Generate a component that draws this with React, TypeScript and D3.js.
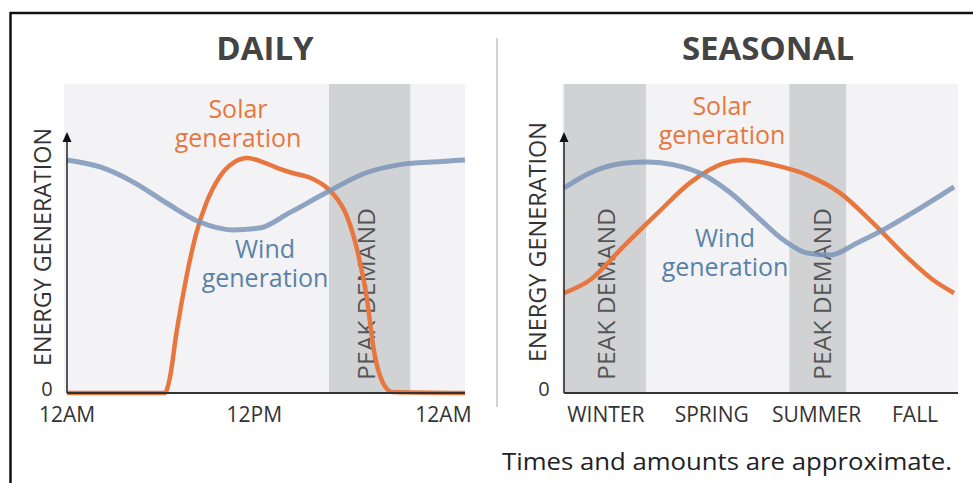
import React from "react";
import * as d3 from "d3";

// ---------- DATA ----------
const dailyHours = [0, 5.9, 6.2, 6.6, 7.2, 7.8, 8.4, 9.2, 10.0, 10.9, 11.8, 12.7, 13.6, 14.7, 15.6, 16.0, 16.9, 17.5, 18.1, 18.5, 19.0, 19.6, 24];
const dailySolar = [0, 0, 5.7, 23, 44.4, 61.3, 72.8, 82.8, 88.1, 90, 88.5, 86.2, 84.3, 82.4, 79, 76.6, 67.4, 54.8, 35.6, 16.5, 4.6, 0.4, 0];
const dailyWindHours = [0, 2, 4, 6, 8, 10, 11.6, 13.4, 15.7, 18.0, 20.0, 22.0, 24];
const dailyWind = [89.3, 86.6, 80.8, 72.8, 65.5, 62.5, 63.2, 69, 77, 84.3, 87.4, 88.5, 89.3];
const dailyPeak = [15.8, 20.7];
const dailyTicks = ["12AM", "12PM", "12AM"];
const dailyTickHours = [0, 11.3, 22.7];

const seasonT = [0, 0.066, 0.15, 0.213, 0.279, 0.355, 0.423, 0.491, 0.557, 0.618, 0.676, 0.744, 0.81, 0.896, 0.99];
const seasonWind = [78.5, 84.3, 88, 88.5, 87.4, 83.5, 76.6, 67.4, 58.6, 53.6, 52.9, 57.5, 62.5, 70.1, 79];
const seasonSolarT = [0, 0.066, 0.15, 0.238, 0.322, 0.405, 0.456, 0.532, 0.618, 0.701, 0.785, 0.871, 0.937, 0.99];
const seasonSolar = [38.3, 43.3, 56, 69, 80.8, 88, 89.3, 87.4, 83.5, 76.6, 65, 52, 43.3, 38.3];
const seasonPeaks = [[0, 0.208], [0.572, 0.716]];
const seasonTicks = ["WINTER", "SPRING", "SUMMER", "FALL"];
const seasonTickT = [0.106, 0.375, 0.641, 0.891];

// ---------- STYLE ----------
const FONT = "'Open Sans', 'Noto Sans', sans-serif";
const BG = "#f3f3f5";
const BAND = "#d1d2d4";
const ORANGE = "#e8773f";
const BLUE = "#7d95b8";
const BLUE_TEXT = "#5a82a8";
const TXT = "#333";

type PanelProps = {
  x1: number; plotLeft: number; axisX: number;
  title: string; titleX: number;
  domain: [number, number];
  solarX: number[]; solarY: number[];
  windX: number[]; windY: number[];
  peaks: number[][]; peakLabelX: number[];
  ticks: string[]; tickPos: number[];
  solarLabel: [number, number]; windLabel: [number, number];
  yLabelX: number; yLabelY: number; yLabelLen: number;
};

const yTop = 84, yBase = 393, yArrow = 132;
const y = d3.scaleLinear().domain([0, 100]).range([yBase, yArrow]);

function TwoLine({ x, y0, first, color }: { x: number; y0: number; first: string; color: string }) {
  return (
    <g>
      <text x={x} y={y0} textAnchor="middle" fontFamily={FONT} fontSize={25} fill={color}>{first}</text>
      <text x={x} y={y0 + 29} textAnchor="middle" fontFamily={FONT} fontSize={25} fill={color}>generation</text>
    </g>
  );
}

function Panel(p: PanelProps) {
  const x = d3.scaleLinear().domain(p.domain).range([p.axisX, p.x1]);
  const line = d3.line<[number, number]>().x(d => x(d[0])).y(d => y(d[1])).curve(d3.curveMonotoneX);
  const solar = line(p.solarX.map((v, i) => [v, p.solarY[i]]));
  const wind = line(p.windX.map((v, i) => [v, p.windY[i]]));
  return (
    <g>
      <text x={p.titleX} y={60} textAnchor="middle" fontFamily={FONT} fontWeight={700} fontSize={33} fill="#444">{p.title}</text>
      <rect x={p.plotLeft} y={yTop} width={p.x1 - p.plotLeft} height={yBase - yTop} fill={BG} />
      {p.peaks.map((pk, i) => {
        const a = Math.max(x(pk[0]), p.plotLeft);
        return <rect key={i} x={a} y={yTop} width={x(pk[1]) - a} height={yBase - yTop} fill={BAND} />;
      })}
      {p.peaks.map((pk, i) => (
        <text key={"pl" + i} transform={`translate(${p.peakLabelX[i]},380) rotate(-90)`} x={0} y={0} dy="0.35em"
          fontFamily={FONT} fontSize={23} fill="#555" textLength={172} lengthAdjust="spacingAndGlyphs">PEAK DEMAND</text>
      ))}
      <path d={solar ?? ""} fill="none" stroke={ORANGE} strokeWidth={4.5} />
      <path d={wind ?? ""} fill="none" stroke={BLUE} strokeWidth={5} strokeOpacity={0.85} />
      <line x1={p.axisX} x2={p.axisX} y1={yArrow + 6} y2={yBase} stroke="#222" strokeWidth={1.5} />
      <line x1={p.axisX} x2={p.x1} y1={yBase} y2={yBase} stroke="#333" strokeWidth={2} />
      <path d={`M${p.axisX},${yArrow} L${p.axisX - 4.5},${yArrow + 10} L${p.axisX + 4.5},${yArrow + 10} Z`} fill="#111" />
      <text x={p.axisX - 20} y={396} textAnchor="middle" fontFamily={FONT} fontSize={20} fill={TXT}>0</text>
      <text transform={`translate(${p.yLabelX},${p.yLabelY}) rotate(-90)`} textAnchor="middle" dy="0.35em"
        fontFamily={FONT} fontSize={23} fill={TXT} textLength={p.yLabelLen} lengthAdjust="spacingAndGlyphs">ENERGY GENERATION</text>
      {p.ticks.map((t, i) => (
        <text key={t + i} x={x(p.tickPos[i])} y={422} textAnchor="middle" fontFamily={FONT} fontSize={21} fill={TXT}>{t}</text>
      ))}
      <TwoLine x={p.solarLabel[0]} y0={p.solarLabel[1]} first="Solar" color={ORANGE} />
      <TwoLine x={p.windLabel[0]} y0={p.windLabel[1]} first="Wind" color={BLUE_TEXT} />
    </g>
  );
}

export default function App() {
  return (
    <svg width={973} height={483} style={{ position: "absolute", left: 0, top: 0, background: "#fff" }}>
      <line x1={10} x2={973} y1={13} y2={13} stroke="#111" strokeWidth={2.5} />
      <line x1={10.5} x2={10.5} y1={12} y2={483} stroke="#111" strokeWidth={2.5} />
      <line x1={497} x2={497} y1={38} y2={407} stroke="#c4c4c4" strokeWidth={1.5} />
      <Panel x1={465} plotLeft={64} axisX={67} title="DAILY" titleX={265}
        domain={[0, 24]} solarX={dailyHours} solarY={dailySolar} windX={dailyWindHours} windY={dailyWind}
        peaks={[dailyPeak]} peakLabelX={[367]} ticks={dailyTicks} tickPos={dailyTickHours}
        solarLabel={[238, 118]} windLabel={[265, 258]} yLabelX={43} yLabelY={247} yLabelLen={238} />
      <Panel x1={958} plotLeft={562} axisX={564} title="SEASONAL" titleX={768}
        domain={[0, 1]} solarX={seasonSolarT} solarY={seasonSolar} windX={seasonT} windY={seasonWind}
        peaks={seasonPeaks} peakLabelX={[607, 823]} ticks={seasonTicks} tickPos={seasonTickT}
        solarLabel={[722, 115]} windLabel={[725, 247]} yLabelX={538} yLabelY={242} yLabelLen={240} />
      <text x={502} y={470} fontFamily={FONT} fontSize={23} fill="#222" textLength={450} lengthAdjust="spacingAndGlyphs">Times and amounts are approximate.</text>
    </svg>
  );
}
